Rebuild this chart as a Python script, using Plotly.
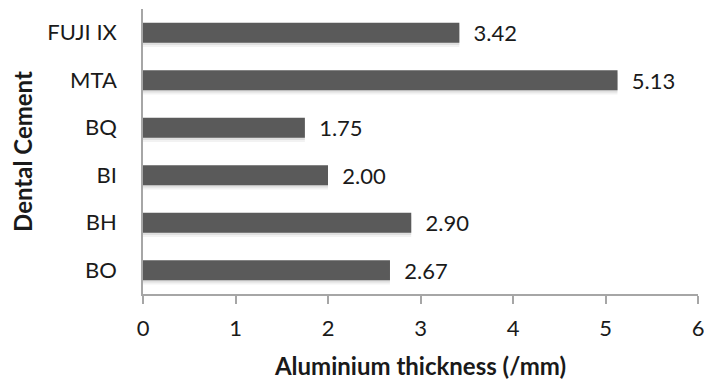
import plotly.graph_objects as go

# Radiopacity of dental cements, expressed as equivalent aluminium thickness
cements = ["BO", "BH", "BI", "BQ", "MTA", "FUJI IX"]
thickness_mm = [2.67, 2.90, 2.00, 1.75, 5.13, 3.42]
x_ticks = [0, 1, 2, 3, 4, 5, 6]

FONT = "Lato, Carlito, Calibri, Liberation Sans, sans-serif"
BAR_W = 0.42

fig = go.Figure()

# soft drop shadow beneath each bar (two faint layers)
for shift, alpha in [(0.09, 0.05), (0.05, 0.08)]:
    fig.add_trace(go.Bar(
        y=cements, x=thickness_mm, orientation="h",
        width=BAR_W, offset=-BAR_W / 2 - shift,
        marker=dict(color=f"rgba(0,0,0,{alpha})", line=dict(width=0)),
        hoverinfo="skip", showlegend=False,
    ))

# main bars with value labels
fig.add_trace(go.Bar(
    y=cements, x=thickness_mm, orientation="h",
    width=BAR_W, offset=-BAR_W / 2,
    marker=dict(color="#5a5a5a", line=dict(width=0)),
    text=[f"{v:.2f}" for v in thickness_mm],
    texttemplate="  %{text}",
    textposition="outside", cliponaxis=False, constraintext="none",
    textfont=dict(family=FONT, size=22, color="#1a1a1a"),
    showlegend=False,
))

fig.update_layout(
    width=704, height=383,
    margin=dict(l=143, r=6, t=9, b=89),
    paper_bgcolor="white", plot_bgcolor="white",
    barmode="overlay",
    font=dict(family=FONT, color="#1a1a1a"),
    xaxis=dict(
        range=[0, 6], tickvals=x_ticks, ticktext=[str(t) for t in x_ticks],
        showgrid=False, zeroline=False, automargin=False,
        showline=True, linecolor="#a6a6a6", linewidth=1.5,
        ticks="outside", ticklen=8, tickcolor="#a6a6a6", tickwidth=1.5,
        tickfont=dict(size=22), ticklabelstandoff=6, ticklabeloverflow="allow",
        title=dict(text="<b>Aluminium thickness (/mm)</b>", font=dict(size=24), standoff=18),
    ),
    yaxis=dict(
        type="category", categoryorder="array", categoryarray=cements,
        range=[-0.5, 5.5],
        showgrid=False, zeroline=False, automargin=False,
        showline=True, linecolor="#a6a6a6", linewidth=1.5,
        ticks="", tickfont=dict(size=22), ticklabelstandoff=20,
        title=dict(text="<b>Dental Cement</b>", font=dict(size=24), standoff=8),
    ),
)

fig.write_html("out.html")
